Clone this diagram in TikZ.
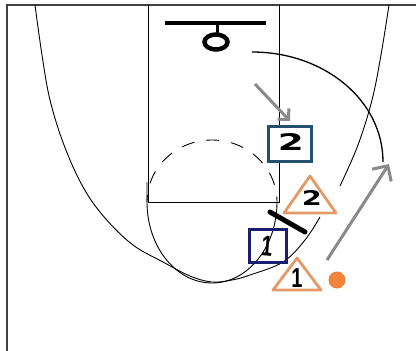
\documentclass[tikz,border=0pt]{standalone}
\usepackage{fontspec}
\setmainfont{DejaVu Sans}
\newfontfamily\onefont{Liberation Sans}
\usetikzlibrary{arrows.meta,shapes.geometric}
\definecolor{boxtwo}{HTML}{24506E}
\definecolor{boxone}{HTML}{1C1C70}
\definecolor{triorange}{HTML}{E39A68}
\definecolor{ballorange}{HTML}{F0843A}
\definecolor{arrowgray}{HTML}{8A8A8A}
\definecolor{borderline}{HTML}{404040}
\begin{document}
\begin{tikzpicture}[x=1pt,y=-1pt,
  court/.style={line width=0.9pt, draw=black},
  player/.style={draw, line width=3pt, inner sep=0pt},
  tri/.style={draw=triorange, line width=2.8pt, line join=round, fill=white},
  digit/.style={inner sep=0pt, text=black, font=\bfseries},
  onedigit/.style={inner sep=0pt, text=black, font=\onefont\bfseries\fontsize{25}{25}\selectfont},
  cut/.style={line width=3pt, draw=arrowgray, -{Straight Barb[angle=90:11pt]}},
  passline/.style={line width=1.3pt, draw=black},
  screenbar/.style={line width=5pt, line cap=round, draw=black}]
\useasboundingbox (0,0) rectangle (416,351);
% outer lines
\draw[line width=1.1pt, draw=borderline] (7,351) -- (7,5) -- (416,5);
% lane
\draw[court] (148,5) -- (148,202) -- (279,202) -- (279,5);
% free throw circle
\draw[court] (147,182) -- (147,202) arc[start angle=180, end angle=0, x radius=65, y radius=81];
\draw[court, dash pattern=on 13pt off 12pt, dash phase=6pt] (147,202) arc[start angle=180, end angle=360, x radius=65, y radius=62];
% three point arc
\draw[court] plot[smooth, tension=0.6] coordinates {(35,5) (42,55) (50,100) (64,145) (83,187) (105,218) (133,245) (163,262) (190,276) (212,282) (232,280) (250,275) (283,262) (305,240) (320,217)};
\draw[court] plot[smooth, tension=0.6] coordinates {(340,186) (358,145) (372,100) (381,55) (389,5)};
% basket
\draw[line width=4pt] (165,23) coordinate (bbl) -- (266,23) coordinate (bbr);
\draw[line width=3pt] (217,23) -- (217,33);
\node[draw, ellipse, line width=4.5pt, minimum width=23pt, minimum height=15pt, inner sep=0pt] (rim) at (216,42) {};
% players
\node[player, draw=boxtwo, fill=white, minimum width=43pt, minimum height=35pt] (b2) at (290,144) {};
\node[digit] (b2t) at (291,142) {\resizebox{26pt}{17pt}{2}};
\node[player, draw=boxone, minimum width=37pt, minimum height=33pt] (b1) at (268,246) {};
\node[onedigit, rotate=-5] (b1t) at (267,246) {\scalebox{0.8}[1.15]{1}};
\draw[tri] (310,176) -- (336,213) -- (284,213) -- cycle;
\node[digit] (t2) at (312,198) {\resizebox{20pt}{15pt}{2}};
\draw[tri] (297,258) -- (321,290) -- (273,290) -- cycle;
\node[onedigit] (t1) at (297,278) {\scalebox{0.8}[1.1]{1}};
\node[circle, fill=ballorange, minimum size=17pt, inner sep=0pt] (ball) at (337,280) {};
% screen
\coordinate (s1) at (270,212);
\coordinate (s2) at (305,232);
\draw[screenbar] (s1) -- (s2);
% pass
\coordinate (p1) at (252,52);
\coordinate (p2) at (383,162);
\draw[passline] (p1) .. controls (324,52) and (383,100) .. (p2);
% cuts
\coordinate (c1a) at (255,84);
\coordinate (c1b) at (290,121);
\draw[cut] (c1a) -- (c1b);
\coordinate (c2a) at (327,260);
\coordinate (c2b) at (389,164);
\draw[cut, -{Straight Barb[angle=90:16pt]}] (c2a) -- (c2b);
\end{tikzpicture}
\end{document}
